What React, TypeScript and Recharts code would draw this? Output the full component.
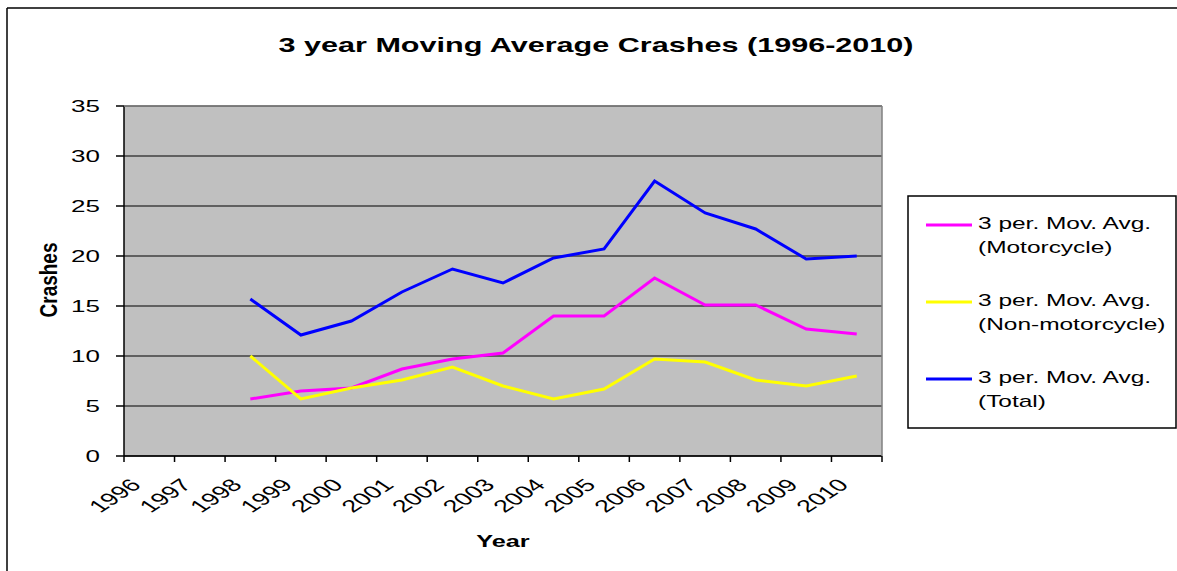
import React from "react";
import { LineChart, Line, XAxis, YAxis, CartesianGrid } from "recharts";

// values
const years = ["1996", "1997", "1998", "1999", "2000", "2001", "2002", "2003", "2004", "2005", "2006", "2007", "2008", "2009", "2010"];
const motorcycle = [null, null, 5.7, 6.5, 6.8, 8.7, 9.7, 10.3, 14.0, 14.0, 17.8, 15.1, 15.1, 12.7, 12.2];
const nonMotorcycle = [null, null, 10.0, 5.7, 6.8, 7.6, 8.9, 7.0, 5.7, 6.7, 9.7, 9.4, 7.6, 7.0, 8.0];
const total = [null, null, 15.7, 12.1, 13.5, 16.4, 18.7, 17.3, 19.8, 20.7, 27.5, 24.3, 22.7, 19.7, 20.0];
const yTicks = [0, 5, 10, 15, 20, 25, 30, 35];

const series = [
    { key: "motorcycle", label: ["3 per. Mov. Avg.", "(Motorcycle)"], color: "#FF00FF" },
    { key: "nonMotorcycle", label: ["3 per. Mov. Avg.", "(Non-motorcycle)"], color: "#FFFF00" },
    { key: "total", label: ["3 per. Mov. Avg.", "(Total)"], color: "#0000FF" },
];

const data = years.map((year, i) => ({
    year,
    motorcycle: motorcycle[i],
    nonMotorcycle: nonMotorcycle[i],
    total: total[i],
}));

const W = 1177;
const H = 571;
const PLOT_LEFT = 124;
const PLOT_RIGHT = 882;
const PLOT_TOP = 106;
const PLOT_BOTTOM = 456;
const STRETCH = 1.53;
const FONT = "'Liberation Sans', Arial, sans-serif";
const BAND = (PLOT_RIGHT - PLOT_LEFT) / years.length;

function YTick({ x, y, payload }: any) {
    return (
        <text transform={`translate(${x},${y}) scale(${STRETCH},1)`} textAnchor="end" dy="0.36em" fontSize={17} fontFamily={FONT} fill="#000">
            {payload.value}
        </text>
    );
}

function XTick({ x, y, payload, index }: any) {
    const left = x - BAND / 2;
    return (
        <g>
            <line x1={left} x2={left} y1={y} y2={y + 6} stroke="#000" strokeWidth={1.5} />
            {index === years.length - 1 && (
                <line x1={x + BAND / 2} x2={x + BAND / 2} y1={y} y2={y + 6} stroke="#000" strokeWidth={1.5} />
            )}
            <text transform={`translate(${x - 7},${y + 30}) scale(${STRETCH},1) rotate(-45)`} textAnchor="end" fontSize={17.5} fontFamily={FONT} fill="#000">
                {payload.value}
            </text>
        </g>
    );
}

export default function App() {
    return (
        <div style={{ position: "absolute", left: 0, top: 0, width: W, height: H, background: "#fff" }}>
            <LineChart width={W} height={H} data={data} margin={{ top: PLOT_TOP, right: W - PLOT_RIGHT, bottom: 0, left: 0 }}>
                <CartesianGrid horizontal vertical={false} stroke="#000" strokeWidth={1} fill="#C0C0C0" fillOpacity={1} />
                <XAxis
                    dataKey="year"
                    scale="band"
                    height={H - PLOT_BOTTOM}
                    interval={0}
                    tickSize={0}
                    tickMargin={0}
                    tickLine={false}
                    axisLine={{ stroke: "#000", strokeWidth: 1.5 }}
                    tick={<XTick />}
                />
                <YAxis
                    domain={[0, 35]}
                    ticks={yTicks}
                    width={PLOT_LEFT}
                    tickSize={8}
                    tickMargin={16}
                    tickLine={{ stroke: "#000", strokeWidth: 1.5 }}
                    axisLine={{ stroke: "#000", strokeWidth: 1.5 }}
                    tick={<YTick />}
                    interval={0}
                />
                {series.map((s) => (
                    <Line key={s.key} type="linear" dataKey={s.key} stroke={s.color} strokeWidth={3} dot={false} activeDot={false} isAnimationActive={false} />
                ))}
            </LineChart>
            <svg width={W} height={H} style={{ position: "absolute", left: 0, top: 0, pointerEvents: "none" }}>
                {/* outer frame */}
                <line x1={7} y1={8} x2={W} y2={8} stroke="#000" strokeWidth={1.5} />
                <line x1={7} y1={8} x2={7} y2={H} stroke="#000" strokeWidth={1.5} />
                {/* plot border top / right */}
                <line x1={PLOT_LEFT} y1={PLOT_TOP} x2={PLOT_RIGHT} y2={PLOT_TOP} stroke="#808080" strokeWidth={1.5} />
                <line x1={PLOT_RIGHT} y1={PLOT_TOP} x2={PLOT_RIGHT} y2={PLOT_BOTTOM} stroke="#808080" strokeWidth={1.5} />
                <text transform={`translate(596,52) scale(${STRETCH},1)`} textAnchor="middle" fontSize={20} fontWeight="bold" fontFamily={FONT}>
                    3 year Moving Average Crashes (1996-2010)
                </text>
                <text transform={`translate(503,547) scale(${STRETCH},1)`} textAnchor="middle" fontSize={16.5} fontWeight="bold" fontFamily={FONT}>
                    Year
                </text>
                <text transform="translate(57,280) scale(1.25,1) rotate(-90)" textAnchor="middle" fontSize={19} fontWeight="bold" fontFamily={FONT}>
                    Crashes
                </text>
                {/* legend */}
                <rect x={908} y={196} width={268} height={232} fill="#fff" stroke="#000" strokeWidth={1.5} />
                {series.map((s, i) => {
                    const base = 229 + i * 77;
                    return (
                        <g key={s.key}>
                            <line x1={926} x2={972} y1={base - 4} y2={base - 4} stroke={s.color} strokeWidth={3} />
                            {s.label.map((t, j) => (
                                <text key={j} transform={`translate(978,${base + j * 24}) scale(${STRETCH},1)`} fontSize={16} fontFamily={FONT}>
                                    {t}
                                </text>
                            ))}
                        </g>
                    );
                })}
            </svg>
        </div>
    );
}
